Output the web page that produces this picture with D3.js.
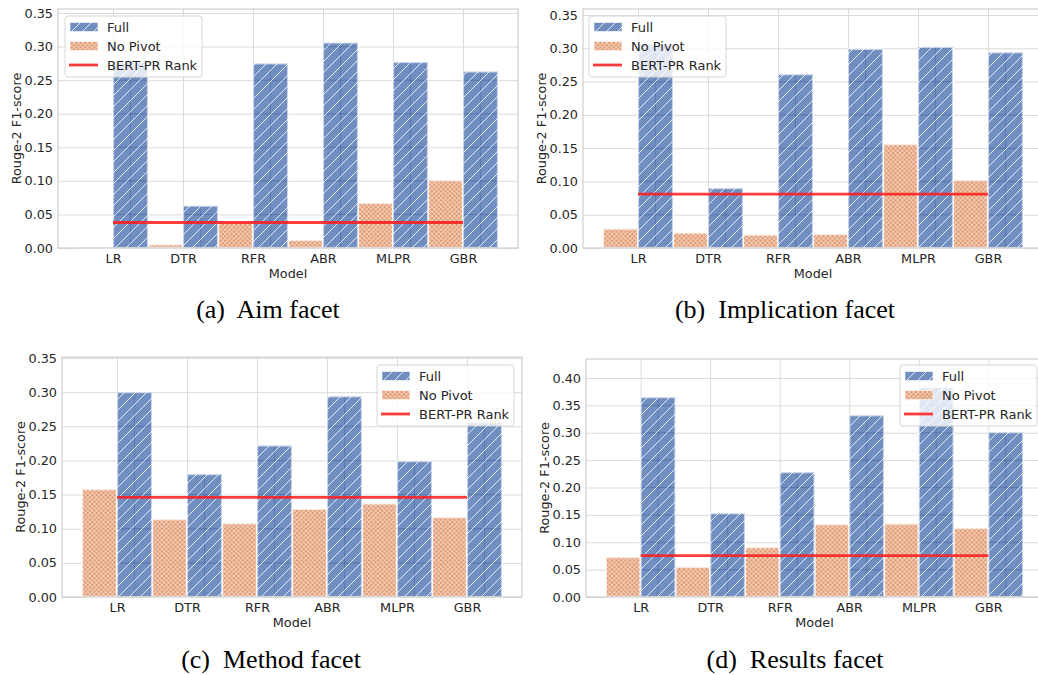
<!DOCTYPE html>
<html>
<head>
<meta charset="utf-8">
<script src="https://cdn.jsdelivr.net/npm/d3@7"></script>
<style>
    body { margin: 0; background: #fff; }
    svg { display: block; font-family: "DejaVu Sans", sans-serif; }
    .cap { font-family: "Liberation Serif", "Times New Roman", serif; white-space: pre; }
</style>
</head>
<body>
<div id="chart"></div>
<script>
var models = ["LR", "DTR", "RFR", "ABR", "MLPR", "GBR"];
var seriesNames = ["Full", "No Pivot", "BERT-PR Rank"];

var aimFull = [0.277, 0.063, 0.275, 0.306, 0.277, 0.263];
var aimNoPivot = [0.001, 0.0055, 0.039, 0.012, 0.067, 0.101];
var aimBert = 0.038;

var implFull = [0.306, 0.090, 0.261, 0.299, 0.302, 0.294];
var implNoPivot = [0.029, 0.023, 0.020, 0.021, 0.156, 0.102];
var implBert = 0.081;

var methodFull = [0.300, 0.180, 0.222, 0.294, 0.199, 0.256];
var methodNoPivot = [0.158, 0.114, 0.108, 0.129, 0.137, 0.117];
var methodBert = 0.146;

var resultsFull = [0.365, 0.153, 0.228, 0.332, 0.383, 0.301];
var resultsNoPivot = [0.073, 0.055, 0.091, 0.133, 0.134, 0.126];
var resultsBert = 0.0755;

var ticks35 = [0, 0.05, 0.10, 0.15, 0.20, 0.25, 0.30, 0.35];
var ticks40 = [0, 0.05, 0.10, 0.15, 0.20, 0.25, 0.30, 0.35, 0.40];
var captions = ["(a)  Aim facet", "(b)  Implication facet", "(c)  Method facet", "(d)  Results facet"];

var fullColor = "#4C72B0", noColor = "#DD8452", lineColor = "#ff1a1a";

var panels = [
    {full: aimFull, no: aimNoPivot, bert: aimBert, ticks: ticks35, ymax: 0.356, caption: captions[0],
        left: 58, right: 518, top: 9, bottom: 248, legX: 65, legY: 16, capX: 268, capY: 318},
    {full: implFull, no: implNoPivot, bert: implBert, ticks: ticks35, ymax: 0.359, caption: captions[1],
        left: 583, right: 1043, top: 9, bottom: 248, legX: 589, legY: 16, capX: 785, capY: 318},
    {full: methodFull, no: methodNoPivot, bert: methodBert, ticks: ticks35, ymax: 0.3515, caption: captions[2],
        left: 62, right: 522, top: 357, bottom: 597, legX: 377, legY: 365, capX: 271, capY: 668},
    {full: resultsFull, no: resultsNoPivot, bert: resultsBert, ticks: ticks40, ymax: 0.4347, caption: captions[3],
        left: 586, right: 1043, top: 359, bottom: 597, legX: 900, legY: 365, capX: 795, capY: 668}
];

var svg = d3.select("#chart").append("svg").attr("width", 1038).attr("height", 675);
var defs = svg.append("defs");

// hatch '//' for Full
var pf = defs.append("pattern").attr("id", "hatchFull").attr("patternUnits", "userSpaceOnUse")
    .attr("width", 11).attr("height", 11);
pf.append("path").attr("d", "M-1,1 l2,-2 M0,11 l11,-11 M10,12 l2,-2")
    .attr("stroke", "#fff").attr("stroke-opacity", 0.8).attr("stroke-width", 1);

// crosshatch for No Pivot
var pn = defs.append("pattern").attr("id", "hatchNo").attr("patternUnits", "userSpaceOnUse")
    .attr("width", 4.5).attr("height", 4.5);
pn.append("path").attr("d", "M0,0 L4.5,4.5 M4.5,0 L0,4.5")
    .attr("stroke", "#fff").attr("stroke-opacity", 0.6).attr("stroke-width", 1);

panels.forEach(function (p) { drawPanel(p); });

function drawPanel(p) {
    var g = svg.append("g");
    var x = d3.scalePoint().domain(models).range([p.left, p.right]).padding(0.786);
    var y = d3.scaleLinear().domain([0, p.ymax]).range([p.bottom, p.top]);
    var half = x.step() / 2;
    var w = p.right - p.left, h = p.bottom - p.top;

    // grid
    g.append("g").attr("transform", "translate(" + p.left + ",0)")
        .call(d3.axisLeft(y).tickValues(p.ticks).tickSize(-w).tickFormat(""))
        .call(function (s) { s.select(".domain").remove(); s.selectAll("line").attr("stroke", "#dadada"); });
    g.append("g").attr("transform", "translate(0," + p.bottom + ")")
        .call(d3.axisBottom(x).tickSize(-h).tickFormat(""))
        .call(function (s) { s.select(".domain").remove(); s.selectAll("line").attr("stroke", "#dadada"); });

    var rowsNo = models.map(function (m, i) { return {m: m, v: p.no[i]}; });
    var rowsFull = models.map(function (m, i) { return {m: m, v: p.full[i]}; });

    // No Pivot bars
    var nb = g.append("g");
    nb.selectAll("rect.base").data(rowsNo).enter().append("rect")
        .attr("x", function (d) { return x(d.m) - half; })
        .attr("y", function (d) { return y(d.v); })
        .attr("width", half)
        .attr("height", function (d) { return p.bottom - y(d.v); })
        .attr("fill", noColor).attr("fill-opacity", 0.88);
    nb.selectAll("rect.hatch").data(rowsNo).enter().append("rect")
        .attr("x", function (d) { return x(d.m) - half; })
        .attr("y", function (d) { return y(d.v); })
        .attr("width", half)
        .attr("height", function (d) { return p.bottom - y(d.v); })
        .attr("fill", "url(#hatchNo)")
        .attr("stroke", "#fff").attr("stroke-opacity", 0.7).attr("stroke-width", 2.2);

    // Full bars
    var fb = g.append("g");
    fb.selectAll("rect.base").data(rowsFull).enter().append("rect")
        .attr("x", function (d) { return x(d.m); })
        .attr("y", function (d) { return y(d.v); })
        .attr("width", half)
        .attr("height", function (d) { return p.bottom - y(d.v); })
        .attr("fill", fullColor).attr("fill-opacity", 0.8);
    // darker grid showing inside the bars
    rowsFull.forEach(function (d) {
        var inner = p.ticks.filter(function (t) { return t > 0 && y(t) > y(d.v) + 2; });
        fb.selectAll(null).data(inner).enter().append("line")
            .attr("x1", x(d.m)).attr("x2", x(d.m) + half)
            .attr("y1", function (t) { return y(t); }).attr("y2", function (t) { return y(t); })
            .attr("stroke", "#2f4f8f").attr("stroke-opacity", 0.3);
        fb.append("line")
            .attr("x1", x(d.m) + half / 2).attr("x2", x(d.m) + half / 2)
            .attr("y1", y(d.v)).attr("y2", p.bottom)
            .attr("stroke", "#2f4f8f").attr("stroke-opacity", 0.3);
    });
    fb.selectAll("rect.hatch").data(rowsFull).enter().append("rect")
        .attr("x", function (d) { return x(d.m); })
        .attr("y", function (d) { return y(d.v); })
        .attr("width", half)
        .attr("height", function (d) { return p.bottom - y(d.v); })
        .attr("fill", "url(#hatchFull)")
        .attr("stroke", "#fff").attr("stroke-opacity", 0.6).attr("stroke-width", 2.2);

    // BERT-PR Rank line
    g.append("line")
        .attr("x1", x(models[0])).attr("x2", x(models[models.length - 1]))
        .attr("y1", y(p.bert)).attr("y2", y(p.bert))
        .attr("stroke", lineColor).attr("stroke-opacity", 0.85).attr("stroke-width", 2.8);

    // spines
    g.append("rect").attr("x", p.left).attr("y", p.top).attr("width", w).attr("height", h)
        .attr("fill", "none").attr("stroke", "#cfcfcf").attr("stroke-width", 1.2);

    // tick labels
    g.append("g").attr("transform", "translate(" + p.left + ",0)")
        .call(d3.axisLeft(y).tickValues(p.ticks).tickSize(0).tickPadding(5).tickFormat(d3.format(".2f")))
        .call(function (s) {
            s.select(".domain").remove();
            s.selectAll("text").attr("fill", "#262626").style("font-size", "12.8px")
                .style("font-family", "DejaVu Sans");
        });
    g.append("g").attr("transform", "translate(0," + p.bottom + ")")
        .call(d3.axisBottom(x).tickSize(0).tickPadding(6))
        .call(function (s) {
            s.select(".domain").remove();
            s.selectAll("text").attr("fill", "#262626").style("font-size", "12.8px")
                .style("font-family", "DejaVu Sans");
        });

    g.append("text").attr("x", (p.left + p.right) / 2).attr("y", p.bottom + 30)
        .attr("text-anchor", "middle").attr("fill", "#262626").style("font-size", "12.8px").text("Model");
    g.append("text").attr("transform", "translate(" + (p.left - 37) + "," + ((p.top + p.bottom) / 2) + ") rotate(-90)")
        .attr("text-anchor", "middle").attr("fill", "#262626").style("font-size", "12.8px").text("Rouge-2 F1-score");

    // legend
    var lg = g.append("g").attr("transform", "translate(" + p.legX + "," + p.legY + ")");
    lg.append("rect").attr("width", 137).attr("height", 61).attr("rx", 3)
        .attr("fill", "#fff").attr("fill-opacity", 0.8).attr("stroke", "#d6d6d6");
    lg.append("rect").attr("x", 5).attr("y", 6.5).attr("width", 28).attr("height", 9)
        .attr("fill", fullColor).attr("fill-opacity", 0.8);
    lg.append("rect").attr("x", 5).attr("y", 6.5).attr("width", 28).attr("height", 9)
        .attr("fill", "url(#hatchFull)").attr("stroke", "#fff").attr("stroke-opacity", 0.6);
    lg.append("rect").attr("x", 5).attr("y", 25.5).attr("width", 28).attr("height", 9)
        .attr("fill", noColor).attr("fill-opacity", 0.88);
    lg.append("rect").attr("x", 5).attr("y", 25.5).attr("width", 28).attr("height", 9)
        .attr("fill", "url(#hatchNo)").attr("stroke", "#fff").attr("stroke-opacity", 0.6);
    lg.append("line").attr("x1", 4).attr("x2", 33).attr("y1", 49).attr("y2", 49)
        .attr("stroke", lineColor).attr("stroke-opacity", 0.85).attr("stroke-width", 2.8);
    lg.selectAll("text.lab").data(seriesNames).enter().append("text")
        .attr("x", 42).attr("y", function (d, i) { return 15.5 + i * 19; })
        .attr("fill", "#262626").style("font-size", "13px").text(function (d) { return d; });

    // caption
    svg.append("text").attr("class", "cap").attr("x", p.capX).attr("y", p.capY)
        .attr("text-anchor", "middle").attr("fill", "#000").style("font-size", "26px").text(p.caption);
}
</script>
</body>
</html>
